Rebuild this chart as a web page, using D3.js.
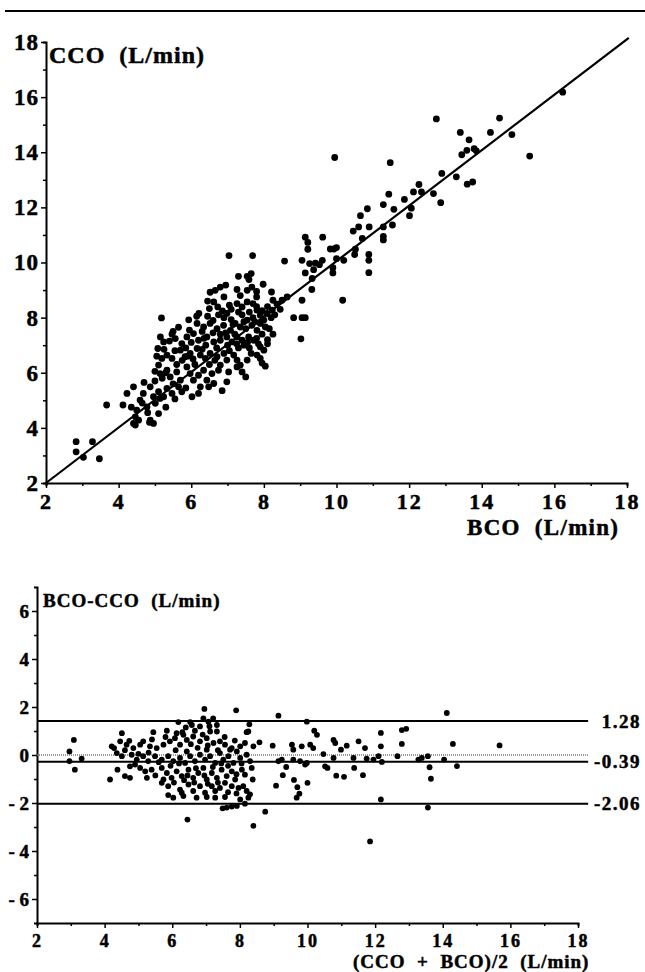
<!DOCTYPE html>
<html>
<head>
<meta charset="utf-8">
<script src="https://cdn.jsdelivr.net/npm/d3@7"></script>
<style>
body{margin:0;background:#fff}
svg text{font-family:"Liberation Serif","Times New Roman",serif;font-weight:bold;fill:#000;stroke:#000;stroke-width:0.5px}
.lbl{white-space:pre}
</style>
</head>
<body>
<svg id="chart" width="645" height="972"></svg>
<script>
// top panel: [BCO, CCO] in L/min
var scatterPoints = [
 [16.23,16.18],[14.49,15.24],[12.75,15.21],[14.83,14.64],[14.24,14.72],[13.41,14.72],[13.65,14.45],[13.59,14.07],
 [13.45,13.91],[13.79,14.13],[13.85,14.05],[15.32,13.86],[9.95,13.81],[11.48,13.62],[12.9,13.23],[13.3,13.11],
 [13.75,12.92],[13.6,12.84],[12.27,12.83],[12.12,12.56],[12.34,12.56],[12.67,12.5],[11.44,12.48],[11.87,12.29],
 [12.87,12.17],[11.29,12.1],[10.85,11.95],[11.58,11.93],[12.06,11.97],[10.66,11.7],[12.01,11.7],[10.46,11.14],
 [10.61,11.29],[10.9,11.29],[11.29,11.29],[11.54,11.36],[10.71,10.87],[11.29,10.95],[11.29,10.82],[9.62,10.92],
 [9.14,10.92],[9.21,10.73],[9.21,10.48],[9.83,10.49],[9.93,10.49],[10.0,10.54],[10.52,10.48],[10.5,10.29],
 [10.89,10.29],[10.89,10.08],[10.89,9.63],[10.2,10.08],[10.0,10.14],[9.61,10.08],[9.53,9.92],[9.05,10.08],
 [9.26,9.96],[9.37,9.74],[9.14,9.62],[9.33,9.42],[9.9,9.81],[9.9,9.62],[9.32,9.02],[10.17,8.63],
 [9.05,8.63],[9.05,8.0],[9.14,8.0],
 [7.04,10.25],[7.69,10.25],[8.57,10.05],[9.42,9.98],[8.82,8.0],[9.02,7.23],[7.3,9.5],[7.54,9.5],
 [7.59,9.38],[7.98,9.21],[6.52,8.92],[6.66,8.99],[6.8,9.11],[6.95,9.18],[7.26,9.02],[7.54,8.99],
 [7.67,9.11],[8.21,8.93],[8.25,8.63],[8.36,8.49],[8.5,8.63],[8.64,8.75],[5.18,7.99],[5.93,7.92],
 [6.21,8.15],[6.5,8.33],[6.62,8.57],[6.73,8.39],[6.86,8.24],[6.98,8.15],[7.1,7.93],[7.26,8.51],
 [7.4,8.39],[7.54,8.57],[7.7,8.51],[7.81,8.27],[7.9,8.09],[8.0,7.91],[8.09,8.15],[8.23,8.27],
 [6.16,7.79],[6.34,7.66],[6.52,7.79],[6.71,7.6],[6.89,7.72],[7.08,7.54],[7.21,7.79],[7.35,7.66],
 [7.54,7.91],[7.67,7.72],[7.81,7.54],[7.9,7.79],[8.04,7.66],
 [5.47,7.4],[5.56,7.24],[5.74,7.06],[5.88,7.3],[6.06,7.42],[6.2,7.18],[6.43,7.3],[6.62,7.12],
 [6.8,7.18],[6.98,7.3],[7.12,7.12],[7.26,7.3],[7.4,7.18],[7.58,7.3],[7.72,7.18],[7.9,6.94],
 [8.0,6.82],[7.81,6.64],[7.9,6.52],[8.04,6.24],
 [5.08,6.88],[5.24,7.12],[5.19,6.52],[5.33,6.64],[5.47,6.52],[5.7,6.82],[5.83,6.58],[5.97,6.7],
 [6.16,6.88],[6.25,6.64],[6.39,6.52],[6.52,6.7],[6.71,6.58],[6.8,6.28],[6.98,6.46],[7.17,6.64],
 [7.26,6.46],[7.35,6.28],[7.54,6.46],
 [5.1,6.28],[5.14,5.97],[5.33,6.09],[5.42,5.85],[5.6,6.03],[5.7,5.73],[5.88,6.21],[5.97,5.97],
 [6.06,5.73],[6.2,5.91],[6.34,6.09],[6.43,5.73],[6.57,5.97],[6.62,5.61],[6.75,6.09],[7.03,6.03],
 [7.26,6.21],[7.4,6.03],[6.48,5.49],[6.98,5.67],[6.02,5.13],[6.25,5.49],
 [4.68,5.25],[4.87,5.49],[4.96,5.13],[5.1,5.31],[5.24,5.13],[5.33,5.43],[5.47,5.25],[5.65,5.49],
 [5.74,5.31],[4.41,5.49],[4.23,5.25],[4.59,5.01],[4.78,4.76],[5.01,4.89],[5.14,5.07],[4.5,4.64],
 [4.46,4.4],[4.41,4.16],[4.55,4.28],[4.87,4.28],[4.96,4.16],[5.1,4.52],[3.67,4.83],[4.12,4.83],
 [2.83,3.5],[2.83,3.13],[3.28,3.5],[3.03,2.93],[3.47,2.88],[4.46,4.1],[4.85,4.2],
 [6.3,7.5],[6.6,7.9],[6.9,8.0],[7.2,7.4],[7.5,7.6],[7.7,8.0],[7.0,7.0],[7.3,6.9],
 [7.6,6.9],[6.7,6.9],[6.4,7.0],[6.1,6.3],[6.5,6.3],[6.9,6.7],[7.8,8.4],[8.1,8.4],
 [7.95,7.4],[8.15,7.6],[7.4,8.1],[7.1,8.3],[6.8,7.4],[5.9,6.6],[5.6,6.3],[5.3,6.0],
 [5.5,5.6],[5.85,6.9],[6.0,7.1],[7.45,7.0],[7.8,7.25],[8.2,8.0],
 [7.15,7.75],[7.45,7.85],[7.75,7.85],[7.95,8.25],[7.6,8.2],[7.3,8.2],[7.05,8.45],[6.75,8.1],
 [6.45,8.05],[6.35,7.25],[6.6,7.45],[6.95,7.45],[7.25,7.05],[7.55,7.1],[7.85,7.05],[8.1,7.2],
 [7.65,6.7],[7.05,6.8],[6.65,6.45],[6.3,6.85],[6.05,6.5],[5.75,6.45],[5.55,6.8],[5.25,6.85],
 [5.4,7.15],[5.65,7.65],[5.95,7.55],[6.15,8.05],[6.45,8.6],[6.9,8.75],[7.35,8.8],[7.8,8.75],
 [7.65,9.6],[7.8,8.95],[8.3,8.1],[8.45,8.3],[8.1,7.05],[8.25,7.4],[7.95,6.35],[7.5,5.85],
 [6.85,5.35],[6.2,5.25],[5.85,5.45],[5.55,5.05],[5.3,4.75],[4.8,4.55],[4.65,4.9],[4.35,4.75],
 [4.7,5.65],[5.0,5.7],[5.2,5.8],[5.0,6.05],[5.05,6.6],[5.15,7.3],[5.5,7.5]
];
// fitted line ends [BCO, CCO]
var fitLine = [[2, 2], [18.05, 18.15]];

// bottom panel: [(CCO+BCO)/2, BCO-CCO]
var diffPoints = [
 [6.95,1.92],[7.89,1.86],[9.14,1.64],[14.12,1.75],[6.92,1.53],[9.98,1.39],[6.18,1.37],[6.53,1.37],
 [8.28,1.28],[7.07,1.39],[4.51,0.91],[3.09,0.63],[4.73,0.59],[5.44,0.95],[5.84,1.01],[6.13,0.91],
 [6.33,0.84],[6.67,1.01],[7.12,0.98],[7.32,0.98],[8.2,0.95],[10.2,1.01],[10.28,0.84],[12.17,0.92],
 [12.79,1.04],[12.92,1.09],[12.79,0.46],[14.3,0.46],[15.68,0.4],[10.77,0.63],[10.82,0.5],[11.51,0.57],
 [11.16,0.39],[11.7,0.29],[12.17,0.36],[10.99,0.22],[10.08,0.43],[9.83,0.36],[9.58,0.22],[9.54,0.43],
 [10.17,0.29],[8.97,0.39],[8.58,0.53],[8.4,0.36],[8.01,0.36],[10.47,0.04],[10.77,-0.12],[11.36,-0.12],
 [11.75,-0.15],[11.95,-0.19],[12.1,-0.05],[12.2,-0.29],[12.66,-0.05],[13.28,-0.19],[13.38,-0.12],[13.56,-0.05],
 [14.04,-0.19],[13.61,-0.51],[13.65,-0.99],[14.42,-0.46],[11.38,-0.54],[11.64,-0.84],[10.85,-0.86],[11.08,-0.91],
 [10.52,-0.47],[10.59,-0.54],[9.98,-0.33],[9.93,-0.4],[9.37,-0.5],[9.14,-0.26],[9.24,-0.19],[9.58,-0.19],
 [9.78,-0.26],[9.27,-0.84],[9.6,-1.04],[10.0,-1.16],[9.07,-1.28],[9.7,-1.34],[9.76,-1.61],[9.68,-1.78],
 [12.17,-1.85],[13.56,-2.19],[8.75,-2.36],[8.4,-2.95],[6.45,-2.69],[11.85,-3.6],[7.49,-2.22],[7.61,-2.19],
 [7.76,-2.15],[7.91,-2.12],[8.15,-2.03],[8.25,-1.78],[8.3,-1.64],[5.88,-1.67],[6.03,-1.78],[6.33,-1.71],
 [6.72,-1.78],[7.02,-1.75],[7.27,-1.78],[7.56,-1.75],[8.01,-1.85],[4.16,-1.02],[4.38,-0.61],[4.6,-0.88],
 [4.75,-0.95],[2.96,0.15],[2.96,-0.26],[3.12,-0.61],[3.32,-0.15],
 [4.21,0.36],[4.28,0.29],[4.46,0.57],[4.65,0.43],[4.85,0.29],[5.05,0.43],[5.14,0.57],[5.34,0.36],
 [5.54,0.29],[5.74,0.43],[5.93,0.57],[6.08,0.7],[6.23,0.43],[6.43,0.63],[6.62,0.77],[6.82,0.57],
 [7.02,0.7],[7.22,0.5],[7.41,0.57],[7.56,0.43],[7.76,0.29],[7.91,0.15],[8.25,0.98],[6.82,1.19],
 [6.58,1.25],[7.32,1.25],[7.21,1.53],
 [4.36,0.08],[4.51,-0.05],[4.8,0.01],[4.95,-0.19],[5.14,-0.05],[5.29,-0.26],[5.49,-0.05],[5.69,-0.19],
 [5.88,-0.05],[6.03,-0.26],[6.23,-0.12],[6.38,-0.33],[6.53,-0.05],[6.67,-0.26],[6.82,0.01],[6.97,-0.19],
 [7.12,-0.05],[7.27,-0.33],[7.41,0.08],[7.51,-0.19],[7.66,-0.05],[7.81,-0.33],[8.01,-0.12],[8.2,0.01],
 [8.3,-0.26],[6.43,0.15],[7.02,0.22],[7.71,0.22],
 [4.75,-0.47],[5.05,-0.54],[5.2,-0.68],[5.39,-0.61],[5.69,-0.54],[5.84,-0.75],[5.98,-0.95],[6.13,-0.68],
 [6.28,-0.88],[6.48,-0.61],[6.62,-0.95],[6.77,-0.75],[6.92,-0.54],[7.02,-1.02],[7.17,-0.75],[7.32,-0.95],
 [7.46,-0.61],[7.61,-0.88],[7.76,-0.68],[7.86,-1.02],[8.06,-0.61],[8.15,-0.82],[8.35,-0.54],[5.74,-1.02],
 [5.69,-1.16],[5.88,-1.3],[6.23,-1.44],[6.48,-1.23],[6.62,-1.5],[6.82,-1.3],[6.97,-1.57],[7.17,-1.3],
 [7.27,-1.5],[7.41,-1.37],[7.56,-1.16],[7.76,-1.3],[7.96,-1.37],[8.1,-1.3],[8.38,-1.02],[6.28,-1.57],
 [6.1,0.2],[6.3,0.95],[6.55,0.45],[6.75,0.3],[6.9,0.85],[7.05,0.4],[7.35,0.2],[7.55,0.75],
 [7.65,-0.45],[7.45,-0.35],[7.2,-0.5],[6.95,-0.85],[6.7,-0.55],[6.45,-0.85],[6.2,-0.35],[5.95,-0.45],
 [5.6,-0.3],[5.3,0.1],[5.0,0.05],[4.6,0.2],[5.5,-0.85],[6.05,-1.15],[6.35,-1.05],[6.65,-1.15],
 [7.05,-1.2],[7.35,-1.15],[7.65,-1.55],[7.9,-0.8],[8.05,-0.35],[8.15,0.5],[7.85,0.6],[7.1,1.2],
 [6.4,1.15],[5.8,0.75],[5.4,0.65],[4.9,-0.4],[5.25,-0.95],[7.9,-1.6],[8.2,-1.5]
];
// limit lines as drawn, and the figures printed beside them
var limitValues = [1.42, -0.28, -2.03];
var limitLabels = ['1.28', '-0.39', '-2.06'];
var limitRange = [2, 18.3];

var topTicks = [2, 4, 6, 8, 10, 12, 14, 16, 18];
var topMinor = [3, 5, 7, 9, 11, 13, 15, 17];
var botXTicks = [2, 4, 6, 8, 10, 12, 14, 16, 18];
var botXMinor = [3, 5, 7, 9, 11, 13, 15, 17];
var botYTicks = [-6, -4, -2, 0, 2, 4, 6];
var botYMinor = [-5, -3, -1, 1, 3, 5];

var svg = d3.select('#chart');

// rule across the top of the page
svg.append('line').attr('x1', 5).attr('x2', 645).attr('y1', 11).attr('y2', 11)
    .attr('stroke', '#000').attr('stroke-width', 2);

function style_axis(g, fs, ls) {
    g.select('.domain').attr('stroke-width', 2);
    g.selectAll('line').attr('stroke-width', 1.5);
    g.selectAll('text').attr('font-size', fs).style('letter-spacing', ls + 'px');
}

// ---------- top panel ----------
var xTop = d3.scaleLinear().domain([2, 18]).range([46, 627]);
var yTop = d3.scaleLinear().domain([2, 18]).range([483, 42]);

var gxTop = svg.append('g').attr('transform', 'translate(0,483)');
gxTop.call(d3.axisBottom(xTop).tickValues(topMinor).tickSize(3).tickFormat(''));
gxTop.append('g').call(d3.axisBottom(xTop).tickValues(topTicks).tickSize(5).tickSizeOuter(0).tickPadding(5));
style_axis(gxTop, 22, 2);

var gyTop = svg.append('g').attr('transform', 'translate(46,0)');
gyTop.call(d3.axisLeft(yTop).tickValues(topMinor).tickSize(3).tickFormat(''));
gyTop.append('g').call(d3.axisLeft(yTop).tickValues(topTicks).tickSize(5).tickSizeOuter(0).tickPadding(2));
style_axis(gyTop, 23, 1);

svg.append('line')
    .attr('x1', xTop(fitLine[0][0])).attr('y1', yTop(fitLine[0][1]))
    .attr('x2', xTop(fitLine[1][0])).attr('y2', yTop(fitLine[1][1]))
    .attr('stroke', '#000').attr('stroke-width', 2.2);

svg.append('g').selectAll('circle').data(scatterPoints).enter().append('circle')
    .attr('cx', function (d) {return xTop(d[0])})
    .attr('cy', function (d) {return yTop(d[1])})
    .attr('r', 3.4)
    .attr('fill', '#000');

svg.append('text').attr('class', 'lbl').attr('x', 49).attr('y', 63)
    .attr('font-size', 24).style('letter-spacing', '1px').text('CCO  (L/min)');
svg.append('text').attr('class', 'lbl').attr('x', 467).attr('y', 535)
    .attr('font-size', 23).style('letter-spacing', '1.3px').text('BCO  (L/min)');

// ---------- bottom panel ----------
var xBot = d3.scaleLinear().domain([2, 18]).range([37, 578]);
var yBot = d3.scaleLinear().domain([-7, 7]).range([923, 587]);

var gxBot = svg.append('g').attr('transform', 'translate(0,923)');
gxBot.call(d3.axisBottom(xBot).tickValues(botXMinor).tickSize(3).tickFormat(''));
gxBot.append('g').call(d3.axisBottom(xBot).tickValues(botXTicks).tickSize(5).tickSizeOuter(0).tickPadding(6));
style_axis(gxBot, 18, 2);

var gyBot = svg.append('g').attr('transform', 'translate(37,0)');
gyBot.call(d3.axisLeft(yBot).tickValues(botYMinor).tickSize(3).tickFormat(''));
gyBot.append('g').call(d3.axisLeft(yBot).tickValues(botYTicks).tickSize(5).tickSizeOuter(0).tickPadding(3)
    .tickFormat(function (d) {return d < 0 ? '- ' + (-d) : d}));
style_axis(gyBot, 19, 0);

// zero reference, dotted
svg.append('line')
    .attr('x1', xBot(limitRange[0])).attr('x2', xBot(limitRange[1]))
    .attr('y1', yBot(0)).attr('y2', yBot(0))
    .attr('stroke', '#777').attr('stroke-width', 1.5).attr('stroke-dasharray', '1,1');

svg.append('g').selectAll('line').data(limitValues).enter().append('line')
    .attr('x1', xBot(limitRange[0])).attr('x2', xBot(limitRange[1]))
    .attr('y1', function (d) {return yBot(d)})
    .attr('y2', function (d) {return yBot(d)})
    .attr('stroke', '#000').attr('stroke-width', 2);

svg.append('g').selectAll('text').data(limitValues).enter().append('text')
    .attr('x', 641)
    .attr('y', function (d) {return yBot(d)})
    .attr('dy', '0.35em')
    .attr('text-anchor', 'end')
    .attr('font-size', 19)
    .style('letter-spacing', '1.5px')
    .text(function (d, i) {return limitLabels[i]});

svg.append('g').selectAll('circle').data(diffPoints).enter().append('circle')
    .attr('cx', function (d) {return xBot(d[0])})
    .attr('cy', function (d) {return yBot(d[1])})
    .attr('r', 2.9)
    .attr('fill', '#000');

svg.append('text').attr('class', 'lbl').attr('x', 43).attr('y', 607)
    .attr('font-size', 19).style('letter-spacing', '1px').text('BCO-CCO  (L/min)');
svg.append('text').attr('class', 'lbl').attr('x', 353).attr('y', 968)
    .attr('font-size', 19).style('letter-spacing', '1px').text('(CCO  +  BCO)/2  (L/min)');
</script>
</body>
</html>
